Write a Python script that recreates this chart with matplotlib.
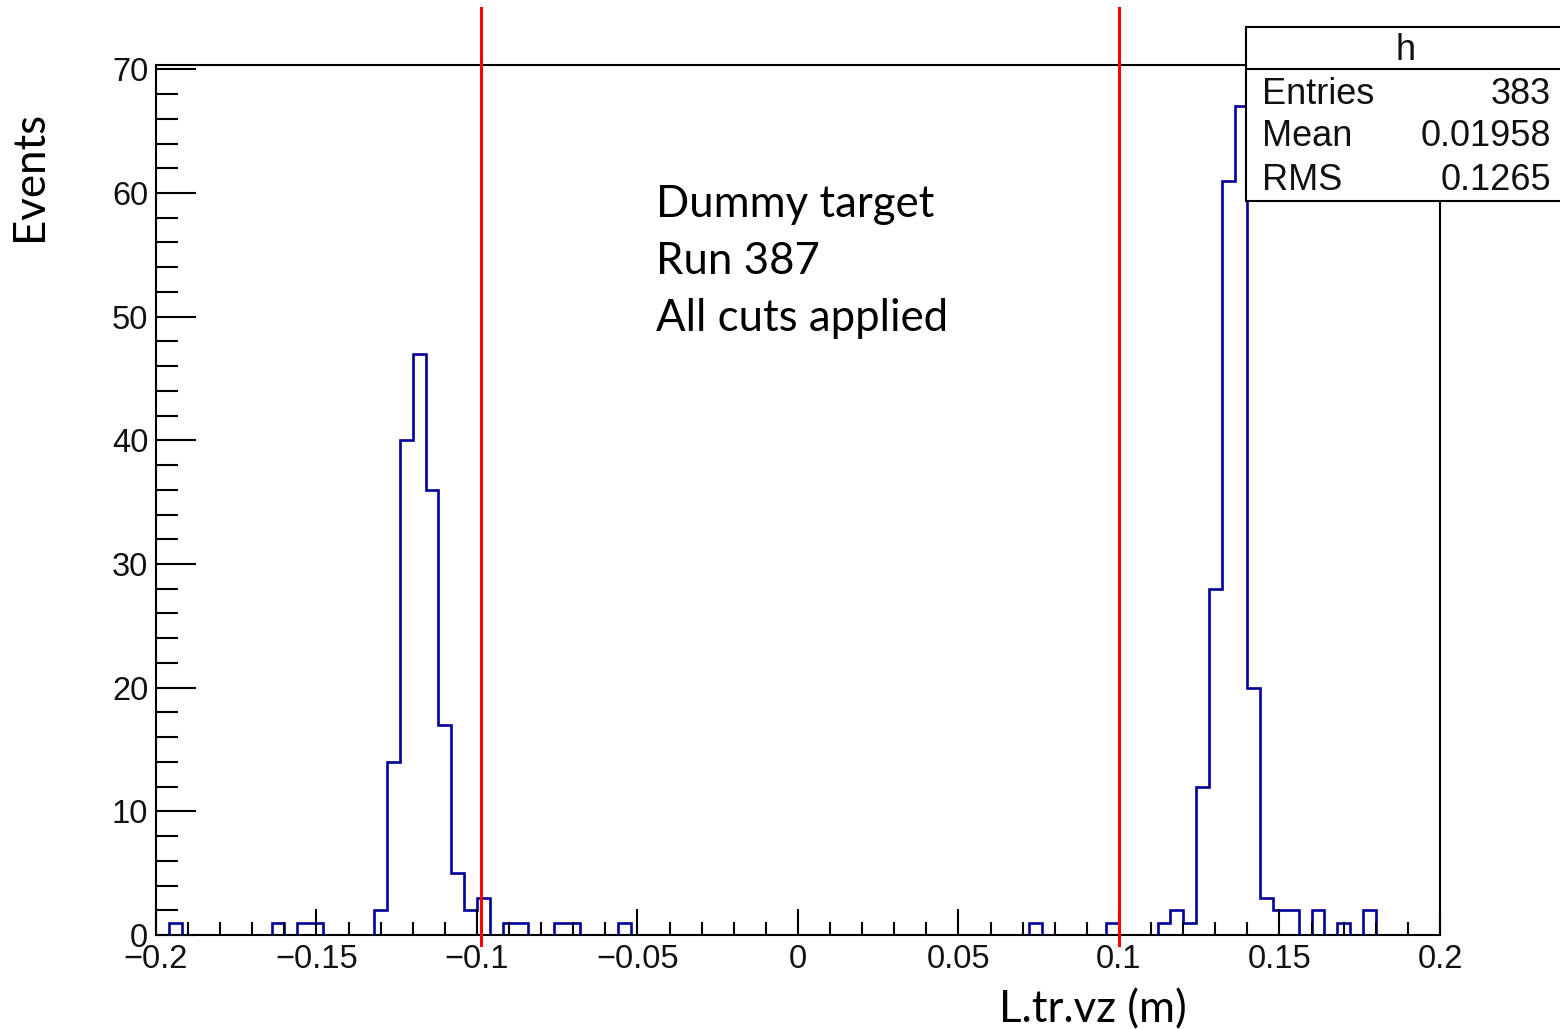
import numpy as np
import matplotlib
matplotlib.use("Agg")
import matplotlib.pyplot as plt
from matplotlib.patches import Rectangle
from matplotlib.lines import Line2D

# ---------------- data ----------------
x_min, x_max, n_bins = -0.2, 0.2, 100
counts = [0, 1, 0, 0, 0, 0, 0, 0, 0, 1,
          0, 1, 1, 0, 0, 0, 0, 2, 14, 40,
          47, 36, 17, 5, 2, 3, 0, 1, 1, 0,
          0, 1, 1, 0, 0, 0, 1, 0, 0, 0,
          0, 0, 0, 0, 0, 0, 0, 0, 0, 0,
          0, 0, 0, 0, 0, 0, 0, 0, 0, 0,
          0, 0, 0, 0, 0, 0, 0, 0, 1, 0,
          0, 0, 0, 0, 1, 0, 0, 0, 1, 2,
          1, 12, 28, 61, 67, 20, 3, 2, 2, 0,
          2, 0, 1, 0, 2, 0, 0, 0, 0, 0]
cut_positions = [-0.0988, 0.1]
x_ticks = [-0.2, -0.15, -0.1, -0.05, 0, 0.05, 0.1, 0.15, 0.2]
x_tick_labels = ["\u22120.2", "\u22120.15", "\u22120.1", "\u22120.05", "0", "0.05", "0.1", "0.15", "0.2"]
y_ticks = [0, 10, 20, 30, 40, 50, 60, 70]
y_tick_labels = ["0", "10", "20", "30", "40", "50", "60", "70"]
stats_title = "h"
stats_names = ["Entries", "Mean", "RMS"]
stats_values = ["383", "0.01958", "0.1265"]
annotation_lines = ["Dummy target", "Run 387", "All cuts applied"]
x_label = "L.tr.vz (m)"
y_label = "Events"

# ---------------- figure ----------------
W, H = 1560, 1029
fig = plt.figure(figsize=(W / 100, H / 100), dpi=100)
fig.patch.set_facecolor("white")

def fx(x):
    return x / W

def fy(y):
    return 1 - y / H

ax = fig.add_axes([fx(156), fy(935), fx(1440) - fx(156), fy(65) - fy(935)])
edges = np.linspace(x_min, x_max, n_bins + 1)
ax.stairs(counts, edges, color="#00009a", linewidth=1.9, baseline=0)
ax.set_xlim(x_min, x_max)
ax.set_ylim(0, 1.05 * max(counts))

for c in cut_positions:
    ax.axvline(c, ymin=-0.0115, ymax=1.0655, color="#ff0000", linewidth=2.2,
               clip_on=False, zorder=5)

for s in ax.spines.values():
    s.set_linewidth(1.5)
    s.set_color("black")

tick_font = dict(family=["Liberation Sans", "DejaVu Sans"], size=23.5)
ax.set_xticks(x_ticks)
ax.set_xticklabels(x_tick_labels, fontdict=tick_font, color="#111111")
ax.set_yticks(y_ticks)
ax.set_yticklabels(y_tick_labels, fontdict=tick_font, color="#111111")
ax.set_xticks(np.arange(-0.2, 0.2001, 0.01), minor=True)
ax.set_yticks(np.arange(0, 70.1, 2), minor=True)
ax.tick_params(axis="x", which="major", direction="in", length=18.5, width=1.5, pad=6.5, top=False)
ax.tick_params(axis="x", which="minor", direction="in", length=9.4, width=1.5, top=False)
ax.tick_params(axis="y", which="major", direction="in", length=28.5, width=1.5, pad=5.5, right=False)
ax.tick_params(axis="y", which="minor", direction="in", length=15.5, width=1.5, right=False)

# ---------------- stats box ----------------
box = Rectangle((fx(1246), fy(201)), fx(1570) - fx(1246), fy(27) - fy(201),
                transform=fig.transFigure, facecolor="white", edgecolor="black",
                linewidth=1.5, zorder=10)
fig.patches.append(box)
fig.lines.append(Line2D([fx(1246), fx(1570)], [fy(69), fy(69)], transform=fig.transFigure,
                        color="black", linewidth=1.5, zorder=11))
stat_font = dict(family=["Liberation Sans", "DejaVu Sans"], size=26, color="#111111", zorder=12)
fig.text(fx(1406), fy(51), stats_title, ha="center", va="center", **stat_font)
for i, (nm, val) in enumerate(zip(stats_names, stats_values)):
    yc = [94, 137, 181][i]
    fig.text(fx(1262), fy(yc), nm, ha="left", va="center", **stat_font)
    fig.text(fx(1551), fy(yc), val, ha="right", va="center", **stat_font)

# ---------------- annotations ----------------
ann_font = dict(family=["Lato", "DejaVu Sans"], size=31.5, color="black")
for line, yb in zip(annotation_lines, [217, 274, 331]):
    fig.text(fx(656), fy(yb), line, ha="left", va="baseline", **ann_font)

fig.text(fx(1093), fy(1022), x_label, ha="center", va="baseline", **ann_font)
fig.text(fx(30), fy(176), y_label, ha="center", va="center", rotation=90, **ann_font)

fig.savefig("out.png", dpi=100, facecolor="white")
